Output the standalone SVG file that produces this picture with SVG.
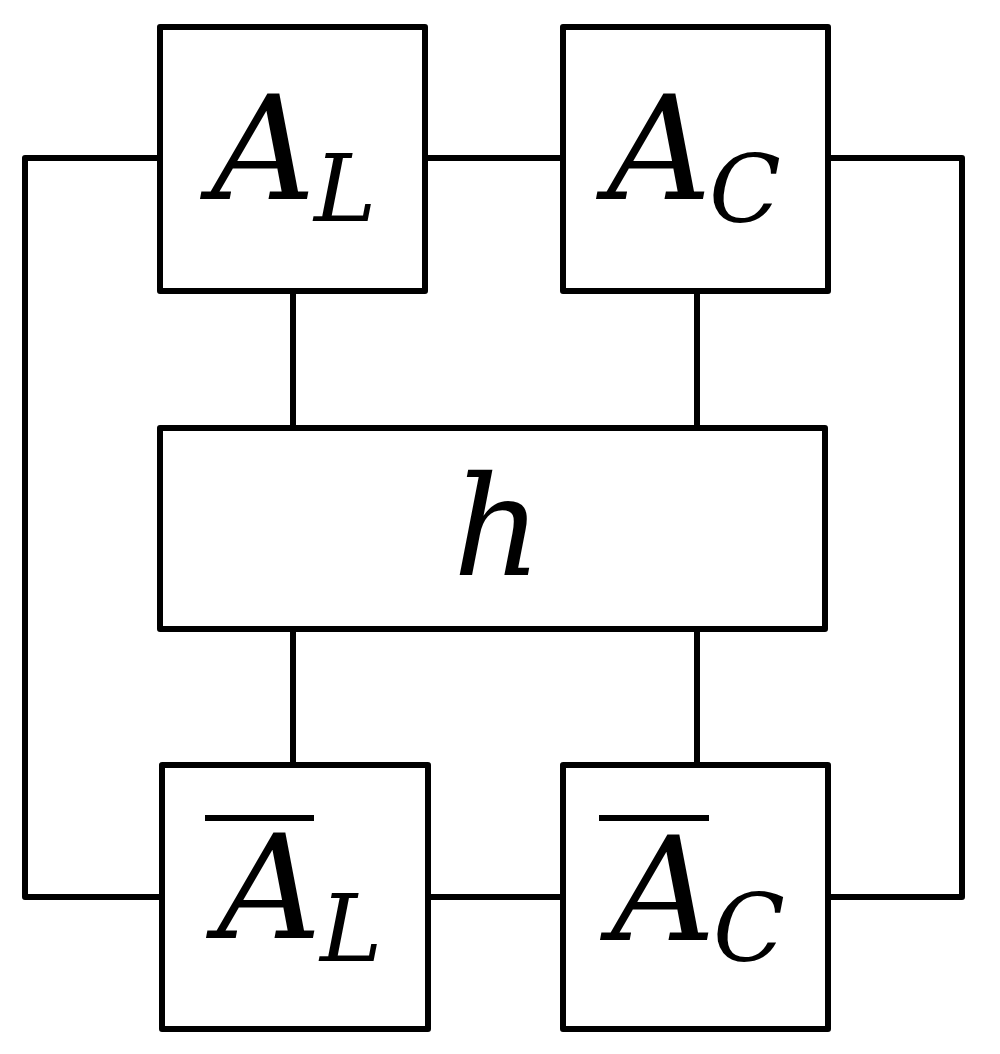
<svg xmlns="http://www.w3.org/2000/svg" width="1000" height="1054" viewBox="0 0 1000 1054">
<style>
.box{fill:#fff;stroke:#000;stroke-width:6;stroke-linejoin:round}
.wire{fill:none;stroke:#000;stroke-width:6;stroke-linejoin:round}
.bar{stroke:#000;stroke-width:6}
.m{font-family:"DejaVu Serif",serif;font-style:italic;font-weight:normal;fill:#000}
.big{font-size:145px}
.sub{font-size:94px}
</style>
<rect width="1000" height="1054" fill="#fff"/>
<g id="connectors">
<polyline class="wire" points="160,158 25,158 25,897 162,897"/>
<polyline class="wire" points="828,158 962,158 962,897 828,897"/>
<line class="wire" x1="425" y1="158" x2="563" y2="158"/>
<line class="wire" x1="428" y1="897" x2="563" y2="897"/>
<line class="wire" x1="293" y1="291" x2="293" y2="428"/>
<line class="wire" x1="697" y1="291" x2="697" y2="428"/>
<line class="wire" x1="293" y1="629" x2="293" y2="765"/>
<line class="wire" x1="697" y1="629" x2="697" y2="765"/>
</g>
<g id="AL">
<rect class="box" x="160" y="27" width="265" height="264"/>
<text class="m big" x="211" y="199">A</text>
<text class="m sub" x="314" y="221">L</text>
</g>
<g id="AC">
<rect class="box" x="563" y="27" width="265" height="264"/>
<text class="m big" x="607" y="199">A</text>
<text class="m sub" x="709" y="222">C</text>
</g>
<g id="h">
<rect class="box" x="160" y="428" width="665" height="201"/>
<text class="m" font-size="138" x="453" y="575">h</text>
</g>
<g id="ALbar">
<rect class="box" x="162" y="765" width="266" height="264"/>
<line class="bar" x1="205" y1="818" x2="314" y2="818"/>
<text class="m big" x="217" y="938">A</text>
<text class="m sub" x="320" y="961">L</text>
</g>
<g id="ACbar">
<rect class="box" x="563" y="765" width="265" height="264"/>
<line class="bar" x1="599" y1="818" x2="709" y2="818"/>
<text class="m big" x="611" y="940">A</text>
<text class="m sub" x="713" y="961">C</text>
</g>
</svg>
